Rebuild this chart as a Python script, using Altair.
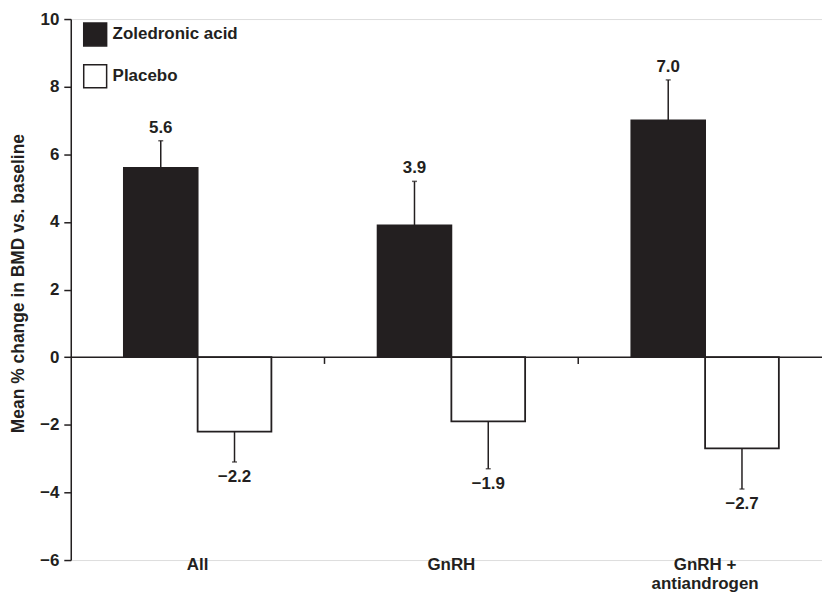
import altair as alt
import pandas as pd

groups = ["All", "GnRH", "GnRH + antiandrogen"]
treatments = ["Zoledronic acid", "Placebo"]
za_mean = [5.6, 3.9, 7.0]
za_err_end = [6.4, 5.2, 8.2]
pl_mean = [-2.2, -1.9, -2.7]
pl_err_end = [-3.1, -3.3, -3.9]
y_ticks = [-6, -4, -2, 0, 2, 4, 6, 8, 10]

rows = []
for i, g in enumerate(groups):
    rows.append({"group": g, "treatment": treatments[0], "value": za_mean[i], "err": za_err_end[i]})
    rows.append({"group": g, "treatment": treatments[1], "value": pl_mean[i], "err": pl_err_end[i]})
df = pd.DataFrame(rows)
sep = pd.DataFrame({"group": groups[1:]})

INK = "#231f20"
FONT = "Liberation Sans"
FS = 17

xscale = alt.Scale(domain=groups, range=[0, 764], paddingInner=0, paddingOuter=0)
xoff = alt.XOffset("treatment:N", scale=alt.Scale(domain=treatments, paddingInner=0, paddingOuter=0.72))
yscale = alt.Scale(domain=[-6, 10], nice=False, zero=False)

x_enc = alt.X("group:N", scale=xscale, sort=groups, title=None,
              axis=alt.Axis(domain=False, ticks=False, labelAngle=0, labelFontSize=FS,
                            labelFontWeight="bold", labelColor=INK, labelFont=FONT,
                            labelPadding=-4, labelLineHeight=20, labelBaseline="top",
                            labelExpr="datum.value == 'GnRH + antiandrogen' ? ['GnRH +', 'antiandrogen'] : datum.label"))
y_enc = alt.Y("value:Q", scale=yscale,
              axis=alt.Axis(values=y_ticks, grid=False, domainColor=INK, domainWidth=1.5,
                            tickColor=INK, tickWidth=1.5, tickSize=7, labelFontSize=FS,
                            labelFontWeight="bold", labelColor=INK, labelFont=FONT, labelPadding=5,
                            title="Mean % change in BMD vs. baseline", titleFontSize=17.5,
                            titleFontWeight="bold", titleColor=INK, titleFont=FONT,
                            titleX=-52, titleY=265, titleAngle=-90, titleBaseline="middle", titleAlign="center"))

base = alt.Chart(df)

bars = base.mark_bar(stroke=INK, strokeWidth=1.8).encode(
    x=x_enc,
    xOffset=xoff,
    y=y_enc,
    y2=alt.datum(0),
    fill=alt.Fill("treatment:N", scale=alt.Scale(domain=treatments, range=[INK, "white"]),
                  legend=alt.Legend(title=None, orient="none", legendX=12, legendY=3,
                                    symbolType="square", symbolSize=529, symbolStrokeColor=INK,
                                    symbolStrokeWidth=1.5, labelFontSize=FS, labelFontWeight="bold",
                                    labelFont=FONT, labelColor=INK, labelOffset=5, rowPadding=13,
                                    padding=0)),
)

err = base.mark_rule(color=INK, strokeWidth=1.5).encode(
    x=alt.X("group:N", scale=xscale, sort=groups),
    xOffset=xoff,
    y=alt.Y("value:Q", scale=yscale),
    y2=alt.Y2("err:Q"),
)

caps = base.mark_tick(color=INK, thickness=1.5, size=5, orient="horizontal").encode(
    x=alt.X("group:N", scale=xscale, sort=groups),
    xOffset=xoff,
    y=alt.Y("err:Q", scale=yscale),
)

txt_up = base.transform_filter(alt.datum.treatment == treatments[0]).mark_text(
    baseline="middle", dy=-13, fontSize=FS, fontWeight="bold", font=FONT, color=INK).encode(
    x=alt.X("group:N", scale=xscale, sort=groups),
    xOffset=xoff,
    y=alt.Y("err:Q", scale=yscale),
    text=alt.Text("value:Q", format=".1f"),
)
txt_dn = base.transform_filter(alt.datum.treatment == treatments[1]).mark_text(
    baseline="middle", dy=15, fontSize=FS, fontWeight="bold", font=FONT, color=INK).encode(
    x=alt.X("group:N", scale=xscale, sort=groups),
    xOffset=xoff,
    y=alt.Y("err:Q", scale=yscale),
    text=alt.Text("value:Q", format=".1f"),
)

zero = alt.Chart(pd.DataFrame({"v": [0]})).mark_rule(color=INK, strokeWidth=1.5).encode(
    y=alt.Y("v:Q", scale=yscale)
)

sep_ticks = alt.Chart(sep).mark_rule(color=INK, strokeWidth=1.5).encode(
    x=alt.X("group:N", scale=xscale, sort=groups, bandPosition=0),
    y=alt.datum(0),
    y2=alt.datum(-0.2),
)

chart = alt.layer(bars, zero, sep_ticks, err, caps, txt_up, txt_dn).properties(
    width=754, height=543,
    autosize=alt.AutoSizeParams(type="none"),
    padding={"left": 63, "top": 10, "right": 0, "bottom": 32},
).configure_view(stroke=None).configure(background="white")

chart.save("out.html", embed_options={"renderer": "svg", "actions": False})
